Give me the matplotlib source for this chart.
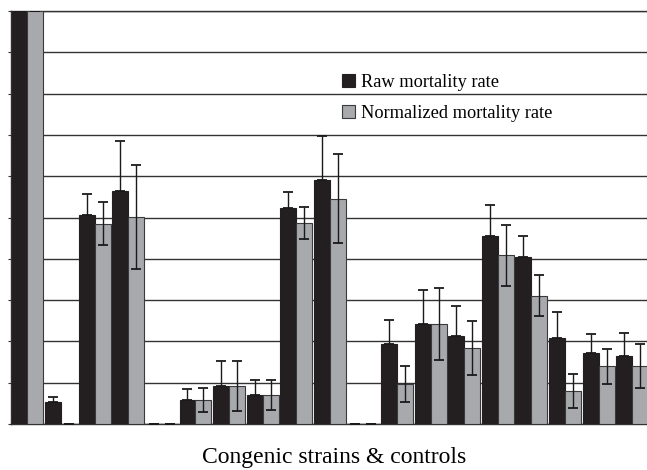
import matplotlib.pyplot as plt
import numpy as np

# mortality (%) per congenic strain / control, with error bars
raw = [100, 5.3, 50.6, 56.4, 0, 5.8, 9.2, 7.0, 52.3, 59.2, 0,
       19.4, 24.2, 21.3, 45.5, 40.4, 20.8, 17.2, 16.5]
raw_err = [0, 1.2, 5.1, 12.2, 0, 2.7, 6.1, 3.6, 3.9, 10.5, 0,
           5.8, 8.2, 7.3, 7.5, 5.1, 6.3, 4.6, 5.5]
norm = [100, 0, 48.5, 50.1, 0, 5.8, 9.2, 7.0, 48.7, 54.6, 0,
        9.7, 24.2, 18.4, 40.9, 31.1, 8.0, 14.0, 14.0]
norm_err = [0, 0, 5.2, 12.5, 0, 2.9, 6.1, 3.7, 3.9, 10.7, 0,
            4.4, 8.7, 6.6, 7.4, 4.9, 4.2, 4.2, 5.3]

plt.rcParams['font.family'] = ['Liberation Serif', 'DejaVu Serif']

fig = plt.figure(figsize=(6.47, 4.70), dpi=100)
ax = fig.add_axes([10.5 / 647, 1 - 424 / 470, (647 - 10.5) / 647, 413 / 470])

x = np.arange(len(raw))
w = 0.475
err_kw = dict(ecolor='#1a1a1a', elinewidth=1.0, capsize=3.3, capthick=1.3)
# lower half of the raw error bar disappears into the black bar, so only draw the upper part
ax.bar(x - w / 2, raw, w, yerr=[np.zeros(len(raw)), raw_err], color='#231f20',
       edgecolor='#231f20', linewidth=0.8, error_kw=err_kw,
       label='Raw mortality rate', zorder=3)
ax.bar(x + w / 2, norm, w, yerr=norm_err, color='#a7a9ac', edgecolor='#3a3a3a',
       linewidth=0.8, error_kw=err_kw, label='Normalized mortality rate', zorder=3)

ax.set_xlim(-0.506, 18.44)
ax.set_ylim(0, 100)
ax.set_yticks(np.arange(0, 101, 10))
ax.set_yticklabels([])
ax.set_xticks([])
ax.grid(axis='y', color='#333333', linewidth=1.0, zorder=0)
ax.tick_params(axis='y', length=2, color='#333333')
ax.spines['right'].set_visible(False)
for s in ['top', 'left', 'bottom']:
    ax.spines[s].set_color('#333333')
    ax.spines[s].set_linewidth(1.0)

leg = ax.legend(loc='upper left', bbox_to_anchor=(342 / 647, 1 - 74 / 470),
                bbox_transform=fig.transFigure, frameon=False, fontsize=13.2,
                handlelength=0.72, handleheight=0.72, handletextpad=0.3,
                labelspacing=0.75, borderpad=0, borderaxespad=0)

fig.text(334 / 647, 1 - 458 / 470, 'Congenic strains & controls',
         ha='center', va='center', fontsize=17)

fig.savefig('out.png', dpi=100)
